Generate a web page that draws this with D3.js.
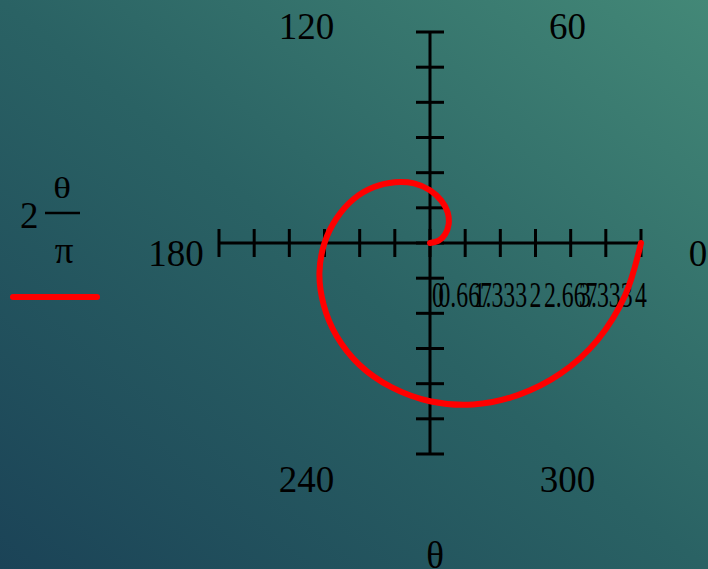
<!DOCTYPE html>
<html>
<head>
<meta charset="utf-8">
<script src="https://cdn.jsdelivr.net/npm/d3@7"></script>
<style>
  html, body { margin: 0; padding: 0; overflow: hidden; }
  text { font-family: "Liberation Serif", "Times New Roman", serif; fill: #000; }
</style>
</head>
<body>
<div id="chart"></div>
<script>
// Chart data
// ================================
// spiral, angle in degrees, radius in plot units
var angleDeg = [0, 15, 30, 45, 60, 75, 90, 105, 120, 135, 150, 165, 180,
  195, 210, 225, 240, 255, 270, 285, 300, 315, 330, 345, 360];
var radius = [0, 0.17, 0.33, 0.5, 0.67, 0.83, 1, 1.17, 1.33, 1.5, 1.67, 1.83, 2,
  2.17, 2.33, 2.5, 2.67, 2.83, 3, 3.17, 3.33, 3.5, 3.67, 3.83, 4];

var radialTicks = [-4, -3.333, -2.667, -2, -1.333, -0.667, 0, 0.667, 1.333, 2, 2.667, 3.333, 4];
var radialLabelValues = [0, 0.667, 1.333, 2, 2.667, 3.333, 4];
var radialLabels = ["0", "0.667", "1.333", "2", "2.667", "3.333", "4"];
var angleLabels = [0, 60, 120, 180, 240, 300];

// Set up the svg
// ================================
var svgWidth = 708;
var svgHeight = 569;
var cx = 430;
var cy = 243;
var rMax = 211;

var svg = d3.select("#chart")
  .append("svg")
  .attr("width", svgWidth)
  .attr("height", svgHeight);

var defs = svg.append("defs");
var grad = defs.append("linearGradient")
  .attr("id", "bg")
  .attr("x1", "0%").attr("y1", "100%")
  .attr("x2", "100%").attr("y2", "0%");
grad.append("stop").attr("offset", "0%").attr("stop-color", "#1b4357");
grad.append("stop").attr("offset", "50%").attr("stop-color", "#2a6264");
grad.append("stop").attr("offset", "100%").attr("stop-color", "#438877");

svg.append("rect")
  .attr("width", svgWidth)
  .attr("height", svgHeight)
  .attr("fill", "url(#bg)");

// Scales
var xScale = d3.scaleLinear().domain([-4, 4]).range([cx - rMax, cx + rMax]);
var yScale = d3.scaleLinear().domain([-4, 4]).range([cy + rMax, cy - rMax]);
var rScale = d3.scaleLinear().domain([0, 4]).range([0, rMax]);

// Axes
var axisGroup = svg.append("g")
  .attr("stroke", "#000")
  .attr("stroke-width", 3);

axisGroup.append("line")
  .attr("x1", xScale(-4)).attr("x2", xScale(4))
  .attr("y1", cy).attr("y2", cy);

axisGroup.append("line")
  .attr("x1", cx).attr("x2", cx)
  .attr("y1", yScale(4)).attr("y2", yScale(-4));

axisGroup.selectAll(".xtick")
  .data(radialTicks)
  .enter()
  .append("line")
  .attr("x1", d => xScale(d)).attr("x2", d => xScale(d))
  .attr("y1", cy - 14).attr("y2", cy + 14);

axisGroup.selectAll(".ytick")
  .data(radialTicks)
  .enter()
  .append("line")
  .attr("x1", cx - 14).attr("x2", cx + 14)
  .attr("y1", d => yScale(d)).attr("y2", d => yScale(d));

// Radial tick labels (they overlap in the original)
svg.selectAll(".rlabel")
  .data(radialLabelValues)
  .enter()
  .append("text")
  .attr("transform", (d, i) => `translate(${i === 0 ? xScale(d) + 8 : xScale(d)}, 307) scale(0.66, 1)`)
  .attr("text-anchor", "middle")
  .attr("font-size", "36px")
  .text((d, i) => radialLabels[i]);

// Angle labels
var labelCx = cx + 7;
var labelCy = cy + 10;
var labelR = 261;
svg.selectAll(".alabel")
  .data(angleLabels)
  .enter()
  .append("text")
  .attr("x", d => labelCx + labelR * Math.cos(d * Math.PI / 180))
  .attr("y", d => labelCy - labelR * Math.sin(d * Math.PI / 180) + 12.5)
  .attr("text-anchor", "middle")
  .attr("font-size", "37px")
  .text(d => d);

// Spiral
var spiral = angleDeg.map((a, i) => ({ a: a, r: radius[i] }));
var lineGen = d3.lineRadial()
  .angle(d => Math.PI / 2 - d.a * Math.PI / 180)
  .radius(d => rScale(d.r))
  .curve(d3.curveCatmullRom);

svg.append("path")
  .datum(spiral)
  .attr("transform", `translate(${cx}, ${cy})`)
  .attr("d", lineGen)
  .attr("fill", "none")
  .attr("stroke", "#ff0000")
  .attr("stroke-width", 6)
  .attr("stroke-linecap", "round")
  .attr("stroke-linejoin", "round");

// Legend
svg.append("text")
  .attr("x", 20).attr("y", 228)
  .attr("font-size", "37px")
  .text("2");
svg.append("line")
  .attr("x1", 45).attr("x2", 80)
  .attr("y1", 213).attr("y2", 213)
  .attr("stroke", "#000")
  .attr("stroke-width", 2.5);
svg.append("text")
  .attr("transform", "translate(62, 198) scale(1, 0.8)")
  .attr("text-anchor", "middle")
  .attr("font-size", "37px")
  .text("θ");
svg.append("text")
  .attr("x", 64).attr("y", 263)
  .attr("text-anchor", "middle")
  .attr("font-size", "37px")
  .text("π");
svg.append("line")
  .attr("x1", 13).attr("x2", 97)
  .attr("y1", 297).attr("y2", 297)
  .attr("stroke", "#ff0000")
  .attr("stroke-width", 6)
  .attr("stroke-linecap", "round");

// Bottom axis title
svg.append("text")
  .attr("x", 435).attr("y", 568)
  .attr("text-anchor", "middle")
  .attr("font-size", "37px")
  .text("θ");
</script>
</body>
</html>
